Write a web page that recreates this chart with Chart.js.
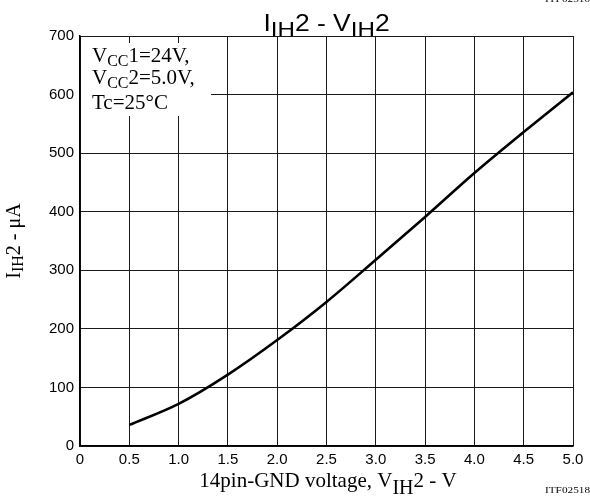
<!DOCTYPE html>
<html>
<head>
<meta charset="utf-8">
<script src="https://cdn.jsdelivr.net/npm/chart.js@4.4.1/dist/chart.umd.min.js"></script>
<style>
  html, body { margin: 0; padding: 0; background: #fff; }
  #wrap { width: 590px; height: 500px; position: relative; }
</style>
</head>
<body>
<div id="wrap"><canvas id="chart" width="590" height="500"></canvas></div>
<script>
// Curve values (V, uA)
const voltage = [0.5, 1.0, 1.5, 2.0, 2.5, 3.0, 3.5, 4.0, 4.5, 5.0];
const current = [36, 72, 122, 181, 246, 318, 391, 466, 536, 604];

// Axis ticks
const xTickValues = [0, 0.5, 1.0, 1.5, 2.0, 2.5, 3.0, 3.5, 4.0, 4.5, 5.0];
const xTickLabels = ['0', '0.5', '1.0', '1.5', '2.0', '2.5', '3.0', '3.5', '4.0', '4.5', '5.0'];
const yTickValues = [0, 100, 200, 300, 400, 500, 600, 700];

const SERIF = '"Liberation Serif", "Times New Roman", serif';
const SANS = '"Liberation Sans", Arial, sans-serif';

// draw text made of parts, some of them lowered as subscripts
function drawRich(ctx, parts, x, y, o) {
    ctx.save();
    ctx.translate(x, y);
    if (o.rotate) ctx.rotate(o.rotate);
    ctx.scale(o.scaleX || 1, 1);
    ctx.fillStyle = '#000';
    ctx.textBaseline = 'alphabetic';
    ctx.textAlign = 'left';
    let total = 0;
    parts.forEach(p => {
        ctx.font = (p.sub ? o.subSize : o.size) + 'px ' + o.family;
        total += ctx.measureText(p.t).width;
    });
    let cx = o.align === 'center' ? -total / 2 : 0;
    parts.forEach(p => {
        ctx.font = (p.sub ? o.subSize : o.size) + 'px ' + o.family;
        ctx.fillText(p.t, cx, p.sub ? o.subShift : 0);
        cx += ctx.measureText(p.t).width;
    });
    ctx.restore();
}

const textPlugin = {
    id: 'texts',
    afterDraw(chart) {
        const ctx = chart.ctx;
        const area = chart.chartArea;

        // condition box in the upper-left corner
        ctx.save();
        ctx.fillStyle = '#fff';
        ctx.fillRect(area.left + 1, 43, 130, 73);
        ctx.restore();
        const boxOpts = { family: SERIF, size: 21, subSize: 16, subShift: 3.5 };
        drawRich(ctx, [{ t: 'V' }, { t: 'CC', sub: true }, { t: '1=24V,' }], 92, 62, boxOpts);
        drawRich(ctx, [{ t: 'V' }, { t: 'CC', sub: true }, { t: '2=5.0V,' }], 92, 84, boxOpts);
        drawRich(ctx, [{ t: 'Tc=25\u00B0C' }], 92, 109, boxOpts);

        // title
        drawRich(ctx, [{ t: 'I' }, { t: 'IH', sub: true }, { t: '2 - V' }, { t: 'IH', sub: true }, { t: '2' }],
            (area.left + area.right) / 2, 31,
            { family: SANS, size: 23, subSize: 21, subShift: 5, align: 'center', scaleX: 1.15 });

        // x axis title
        drawRich(ctx, [{ t: '14pin-GND voltage, V' }, { t: 'IH', sub: true }, { t: '2 - V' }],
            328, 487, { family: SERIF, size: 21, subSize: 20, subShift: 6.5, align: 'center' });

        // y axis title
        drawRich(ctx, [{ t: 'I' }, { t: 'IH', sub: true }, { t: '2 - \u03BCA' }],
            20, 241, { family: SERIF, size: 20, subSize: 16, subShift: 3, align: 'center', rotate: -Math.PI / 2 });

        // figure codes
        const codeOpts = { family: SERIF, size: 9, subSize: 9, subShift: 0, scaleX: 1.25 };
        drawRich(ctx, [{ t: 'ITF02518' }], 545, 493, codeOpts);
        drawRich(ctx, [{ t: 'ITF02510' }], 545, 2, codeOpts);
    }
};

const ctx = document.getElementById('chart').getContext('2d');
new Chart(ctx, {
    type: 'line',
    data: {
        datasets: [{
            data: voltage.map((v, i) => ({ x: v, y: current[i] })),
            borderColor: '#000',
            borderWidth: 2.6,
            pointRadius: 0,
            fill: false,
            cubicInterpolationMode: 'monotone'
        }]
    },
    options: {
        responsive: false,
        animation: false,
        devicePixelRatio: 1,
        layout: { padding: { top: 36, right: 17, left: 0, bottom: 0 } },
        plugins: {
            legend: { display: false },
            tooltip: { enabled: false },
            title: { display: false }
        },
        scales: {
            x: {
                type: 'linear',
                min: 0,
                max: 5,
                afterBuildTicks: (scale) => { scale.ticks = xTickValues.map(v => ({ value: v })); },
                afterFit: (scale) => { scale.height = 54; },
                ticks: {
                    callback: (val, i) => xTickLabels[i],
                    color: '#000',
                    padding: 5,
                    maxRotation: 0,
                    font: { family: SANS, size: 15 }
                },
                grid: { color: '#1a1a1a', lineWidth: 1, drawTicks: false },
                border: { color: '#000', width: 1.5 }
            },
            y: {
                min: 0,
                max: 700,
                afterBuildTicks: (scale) => { scale.ticks = yTickValues.map(v => ({ value: v })); },
                afterFit: (scale) => { scale.width = 80; },
                ticks: {
                    color: '#000',
                    padding: 6,
                    font: { family: SANS, size: 15 }
                },
                grid: { color: '#1a1a1a', lineWidth: 1, drawTicks: false },
                border: { color: '#000', width: 1.5 }
            }
        }
    },
    plugins: [textPlugin]
});
</script>
</body>
</html>
